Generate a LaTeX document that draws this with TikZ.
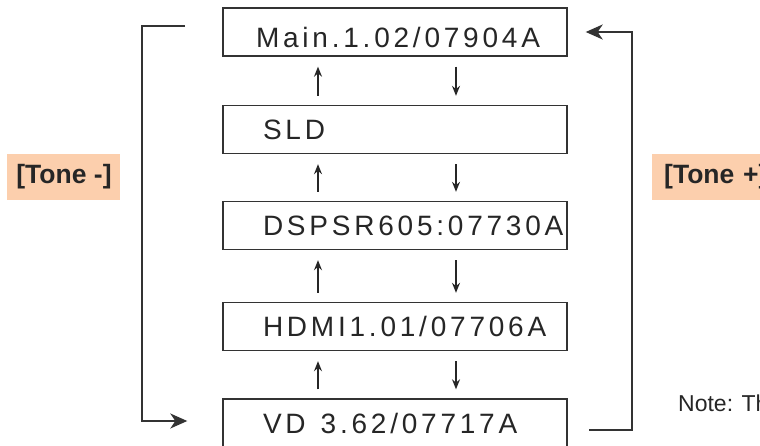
\documentclass[tikz,border=0pt]{standalone}
\usepackage{fontspec}
\setmainfont{Liberation Sans}
\newfontfamily\stagefont[LetterSpace=13.5]{Liberation Sans}
\usetikzlibrary{arrows.meta}
\definecolor{tonepeach}{HTML}{FCCFAD}
\definecolor{inkgray}{HTML}{333333}
\tikzset{
  stage/.style={draw=inkgray, line width=1.4pt, minimum width=344pt, minimum height=48pt,
    inner xsep=40pt, text width=264pt, align=left, text height=20pt, text depth=0pt,
    font=\stagefont\fontsize{28}{30}\selectfont, text=black!85},
  stepup/.style={-{Stealth[length=10pt,width=8pt]}, line width=1.3pt, black!85, shorten <=9pt, shorten >=10pt},
  stepdown/.style={-{Stealth[length=10pt,width=8pt]}, line width=1.3pt, black!85, shorten <=10pt, shorten >=9pt},
  loopline/.style={-{Stealth[length=17pt,width=15pt,inset=5pt]}, line width=1.8pt, inkgray},
  tonebox/.style={fill=tonepeach, minimum height=46pt, inner sep=0pt, text=black!85,
    font=\bfseries\fontsize{26.5}{28}\selectfont}
}
\begin{document}
\begin{tikzpicture}[x=1pt, y=-1pt]
\useasboundingbox (0,0) rectangle (760,445);
% stages
\node[stage] (main) at (395,32) {\hspace*{-7pt}\raisebox{-5pt}{Main.1.02/07904A}};
\node[stage] (sld) at (395,129.5) {SLD};
\node[stage] (dsp) at (395,225.5) {\mbox{DSPSR605:07730A}};
\node[stage] (hdmi) at (395,326.5) {HDMI1.01/07706A};
\node[stage] (vd) at (395,423) {VD\hspace{15pt}3.62/07717A};
% step arrows
\foreach \lo/\hi in {sld/main, dsp/sld, hdmi/dsp, vd/hdmi}{
  \draw[stepup] ([xshift=-77pt]\lo.north) -- ([xshift=-77pt]\hi.south);
  \draw[stepdown] ([xshift=61pt]\hi.south) -- ([xshift=61pt]\lo.north);
}
% loops
\coordinate (minusin) at (185,26);
\coordinate (plusout) at (589,430);
\draw[loopline] (minusin) -| ([xshift=-80pt,yshift=2pt]vd.west) -- ([xshift=-35pt,yshift=2pt]vd.west);
\draw[loopline] (plusout) -| ([xshift=64pt]main.east) -- ([xshift=18pt]main.east);
% tone keys
\node[tonebox, minimum width=113pt] (toneminus) at (63.5,177) {\hspace*{1pt}[Tone -]};
\node[tonebox, minimum width=120pt, anchor=west, text width=112pt, align=left, inner xsep=0pt] (toneplus) at (652,177) {\hspace*{8pt}[Tone +]};
\node[anchor=base west, inner sep=0pt, font=\fontsize{23}{24}\selectfont, text=black!85] (note) at (678,411) {Note: Th};
\end{tikzpicture}
\end{document}
